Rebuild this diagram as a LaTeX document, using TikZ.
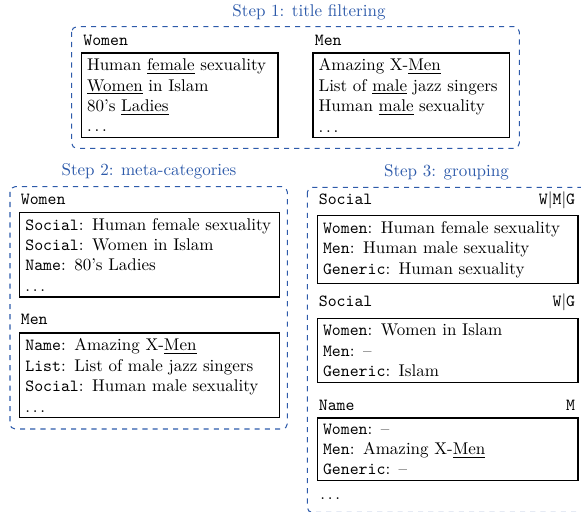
\documentclass[tikz,border=0pt]{standalone}
\usepackage{amsmath}
\usepackage{tikz}
\usetikzlibrary{positioning}

\definecolor{stepblue}{RGB}{45,90,170}

\tikzset{
  stepframe/.style={draw=stepblue, dashed, line width=0.6pt, rounded corners=3pt},
  steptitle/.style={text=stepblue, anchor=base, inner sep=0pt},
  listbox/.style={draw, line width=0.8pt, anchor=north west, align=left, text width=#1},
  boxlabel/.style={anchor=base west, inner sep=0pt, font=\ttfamily},
  flaglabel/.style={anchor=base east, inner sep=0pt},
}

\newcommand{\tg}[1]{\texttt{#1}}

\begin{document}
\begin{tikzpicture}[x=0.5882pt, y=-0.5882pt]

\useasboundingbox (0,0) rectangle (581,512);
\clip (0,0) rectangle (581,512);

% step 1
\node[steptitle] (t1) at (309,16.5) {Step 1: title filtering};
\draw[stepframe] (71.7,26.7) rectangle (519.3,148.3);

\node[boxlabel] (w1) at (83,46) {Women};
\node[listbox=109pt] (wb1) at (80.7,52.3)
  {Human \underline{female} sexuality\\
   \underline{Women} in Islam\\
   80's \underline{Ladies}\\
   $\dots$};

\node[boxlabel] (m1) at (314.5,46) {Men};
\node[listbox=109pt] (mb1) at (312.3,52.3)
  {Amazing X-\underline{Men}\\
   List of \underline{male} jazz singers\\
   Human \underline{male} sexuality\\
   $\dots$};

% step 2
\node[steptitle] (t2) at (149,176) {Step 2: meta-categories};
\draw[stepframe] (10,186.7) rectangle (287.3,429);

\node[boxlabel] (w2) at (20.5,205) {Women};
\node[listbox=146.3pt] (wb2) at (19,211.7)
  {\tg{Social}: Human female sexuality\\
   \tg{Social}: Women in Islam\\
   \tg{Name}: 80's Ladies\\
   $\dots$};

\node[boxlabel] (m2) at (20.5,325) {Men};
\node[listbox=146.3pt] (mb2) at (19,332.3)
  {\tg{Name}: Amazing X-\underline{Men}\\
   \tg{List}: List of male jazz singers\\
   \tg{Social}: Human male sexuality\\
   $\dots$};

% step 3
\node[steptitle] (t3) at (446.5,176.7) {Step 3: grouping};
\draw[stepframe] (307.3,187.3) rectangle (590,512.5);

\node[boxlabel] (g1) at (318.5,204.3) {Social};
\node[flaglabel] (f1) at (575.5,204.3) {\tg{W}$|$\tg{M}$|$\tg{G}};
\node[listbox=146.6pt] (gb1) at (316.7,215)
  {\tg{Women}: Human female sexuality\\
   \tg{Men}: Human male sexuality\\
   \tg{Generic}: Human sexuality};

\node[boxlabel] (g2) at (318.5,306.7) {Social};
\node[flaglabel] (f2) at (575.5,306.7) {\tg{W}$|$\tg{G}};
\node[listbox=146.6pt] (gb2) at (316.7,317.7)
  {\tg{Women}: Women in Islam\\
   \tg{Men}: --\\
   \tg{Generic}: Islam};

\node[boxlabel] (g3) at (318.5,410.7) {Name};
\node[flaglabel] (f3) at (575.5,410.7) {\tg{M}};
\node[listbox=146.6pt] (gb3) at (316.7,417.3)
  {\tg{Women}: --\\
   \tg{Men}: Amazing X-\underline{Men}\\
   \tg{Generic}: --};

\node[anchor=base west, inner sep=0pt] (more3) at (320,500) {$\dots$};

\end{tikzpicture}
\end{document}
